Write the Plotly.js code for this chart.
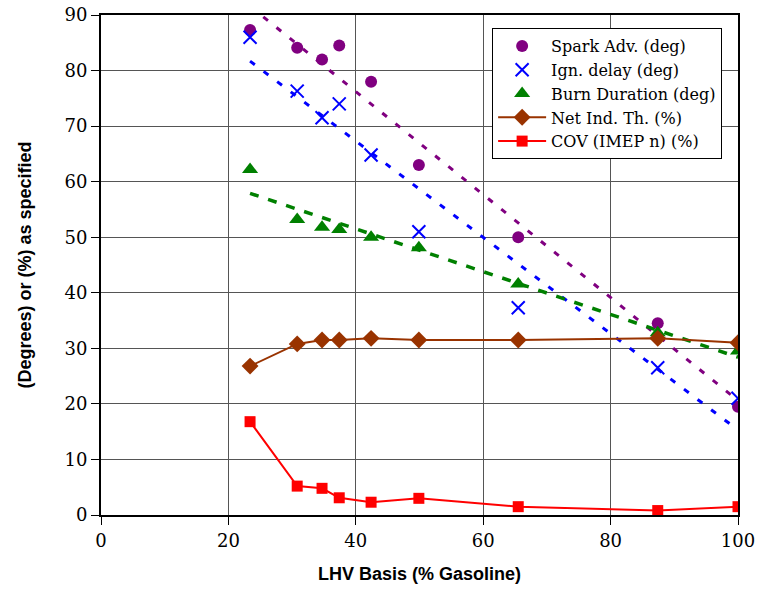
<!DOCTYPE html>
<html><head><meta charset="utf-8">
<script src="https://cdn.plot.ly/plotly-3.0.1.min.js"></script>
<style>body{margin:0;background:#fff}#c{width:759px;height:597px}</style>
</head><body><div id="c"></div>
<script>
var lhv = [23.4, 30.8, 34.7, 37.4, 42.4, 49.9, 65.5, 87.4, 100];
var sparkAdv = [87.3, 84.1, 82.0, 84.5, 78.0, 63.0, 50.0, 34.5, 19.5];
var ignDelay = [86.0, 76.3, 71.5, 74.0, 64.8, 51.0, 37.3, 26.5, 21.0];
var burnDur = [62.2, 53.2, 51.8, 51.4, 50.0, 48.1, 41.6, 32.8, 29.5];
var netIndTh = [26.8, 30.8, 31.5, 31.5, 31.8, 31.5, 31.5, 31.8, 31.0];
var covImep = [16.8, 5.2, 4.8, 3.1, 2.3, 3.0, 1.5, 0.8, 1.5];
// trend line end points
var trendX = [23.4, 100];
var sparkTrend = [91.6, 20.6];
var ignTrend = [81.7, 15.3];
var burnTrend = [57.9, 28.4];

var traces = [
 {x: trendX, y: sparkTrend, mode:'lines', line:{color:'#800080', width:3, dash:'6px,11px'}, showlegend:false, hoverinfo:'skip'},
 {x: trendX, y: ignTrend, mode:'lines', line:{color:'#0000FF', width:3, dash:'6px,11px'}, showlegend:false, hoverinfo:'skip'},
 {x: trendX, y: burnTrend, mode:'lines', line:{color:'#008000', width:3.5, dash:'9px,10px'}, showlegend:false, hoverinfo:'skip'},
 {x: lhv, y: sparkAdv, name:'Spark Adv. (deg)', mode:'markers', marker:{symbol:'circle', size:12, color:'#800080'}},
 {x: lhv, y: ignDelay, name:'Ign. delay (deg)', mode:'markers', marker:{symbol:'x-thin', size:13, line:{color:'#0000FF', width:2}, color:'#0000FF'}},
 {x: lhv, y: burnDur, name:'Burn Duration (deg)', mode:'markers', marker:{symbol:'triangle-up', size:14, color:'#008000'}},
 {x: lhv, y: netIndTh, name:'Net Ind. Th. (%)', mode:'lines+markers', line:{color:'#993300', width:2}, marker:{symbol:'diamond', size:13, color:'#993300'}},
 {x: lhv, y: covImep, name:'COV (IMEP n) (%)', mode:'lines+markers', line:{color:'#FF0000', width:2}, marker:{symbol:'square', size:11, color:'#FF0000'}}
];

var tickFont = {family:'"DejaVu Serif", serif', size:18, color:'#000'};
var layout = {
 width:759, height:597,
 margin:{l:101, r:21, t:15, b:82},
 paper_bgcolor:'#fff', plot_bgcolor:'#fff',
 font:{family:'"Liberation Serif", "Times New Roman", serif', size:18, color:'#000'},
 xaxis:{range:[0,100], dtick:20, tick0:0, showgrid:true, gridcolor:'#555', gridwidth:1,
   showline:true, linecolor:'#000', linewidth:2, mirror:true, ticks:'outside', ticklen:8, tickcolor:'#000',
   zeroline:false, fixedrange:true, tickfont:tickFont,
   title:{text:'LHV Basis (% Gasoline)', font:{family:'"Liberation Sans", Arial, sans-serif', size:18, weight:'bold'}, standoff:18}},
 yaxis:{range:[0,90], dtick:10, tick0:0, showgrid:true, gridcolor:'#555', gridwidth:1,
   showline:true, linecolor:'#000', linewidth:2, mirror:true, ticks:'outside', ticklen:8, tickcolor:'#000',
   zeroline:false, fixedrange:true, tickfont:tickFont,
   title:{text:'(Degrees) or (%) as specified', font:{family:'"Liberation Sans", Arial, sans-serif', size:18, weight:'bold'}, standoff:28}},
 legend:{x:0.614, y:0.974, xanchor:'left', yanchor:'top', bgcolor:'#fff', bordercolor:'#000', borderwidth:1,
   font:{family:'"DejaVu Serif", serif', size:16}, tracegroupgap:0, itemwidth:48},
 showlegend:true
};
Plotly.newPlot('c', traces, layout, {displayModeBar:false, staticPlot:true});
</script></body></html>
